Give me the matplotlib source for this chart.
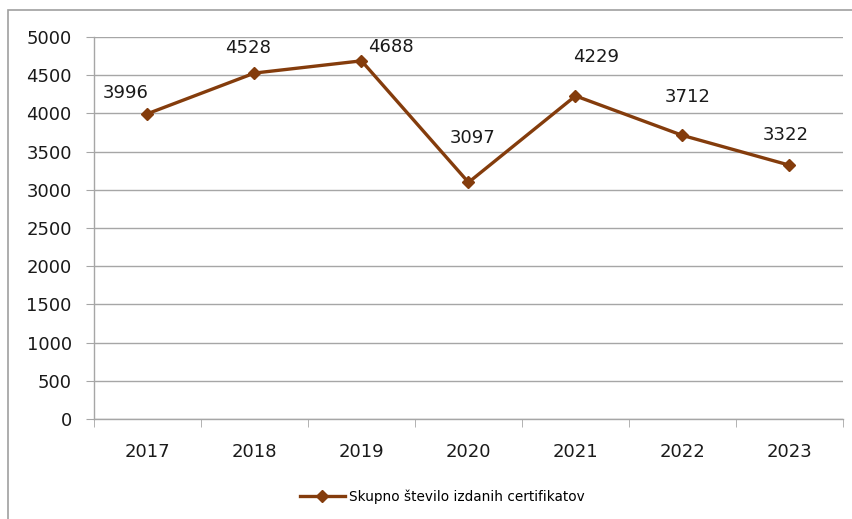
import matplotlib.pyplot as plt
from matplotlib.patches import Rectangle

years = ["2017", "2018", "2019", "2020", "2021", "2022", "2023"]
counts = [3996, 4528, 4688, 3097, 4229, 3712, 3322]
series_name = "Skupno število izdanih certifikatov"

# label offsets in points (dx, dy) as placed in the original
offsets = [(-16, 15), (-5, 18), (21, 10), (3, 32), (15, 28), (4, 28), (-3, 22)]

line_color = "#843C0C"
grid_color = "#A6A6A6"

fig = plt.figure(figsize=(8.53, 5.19), dpi=100)
fig.patches.append(Rectangle((8 / 853, -0.1), 1.2, 1.1 - 10 / 519,
                             transform=fig.transFigure, fill=False,
                             edgecolor="#A0A0A0", linewidth=1.2))
ax = fig.add_axes([94 / 853, 1 - 419 / 519, 749 / 853, 382 / 519])

x = range(len(years))
ax.plot(x, counts, color=line_color, linewidth=2.4, marker="D",
        markersize=6.5, label=series_name)

for i, v in enumerate(counts):
    dx, dy = offsets[i]
    ax.annotate(str(v), (i, v), xytext=(dx, dy), textcoords="offset points",
                ha="center", va="center", fontsize=13, color="#1a1a1a")

ax.set_xlim(-0.5, len(years) - 0.5)
ax.set_ylim(0, 5000)
ax.set_yticks(range(0, 5001, 500))
ax.set_xticks(list(x))
ax.set_xticklabels(years)
ax.set_xticks([i - 0.5 for i in range(len(years) + 1)], minor=True)

ax.yaxis.grid(True, color=grid_color, linewidth=1)
ax.set_axisbelow(True)
for side in ["top", "right"]:
    ax.spines[side].set_visible(False)
for side in ["left", "bottom"]:
    ax.spines[side].set_color(grid_color)
    ax.spines[side].set_linewidth(1)

ax.tick_params(axis="y", length=6, color=grid_color, pad=10,
               labelsize=13, labelcolor="#1a1a1a")
ax.tick_params(axis="x", which="major", length=0, pad=17,
               labelsize=13, labelcolor="#1a1a1a")
ax.tick_params(axis="x", which="minor", length=6, color=grid_color)

fig.legend(loc="center", bbox_to_anchor=(442 / 853, 1 - 497 / 519),
           frameon=False, fontsize=9.8, handlelength=3.3, handletextpad=0.3)

fig.savefig("out.png", dpi=100)
